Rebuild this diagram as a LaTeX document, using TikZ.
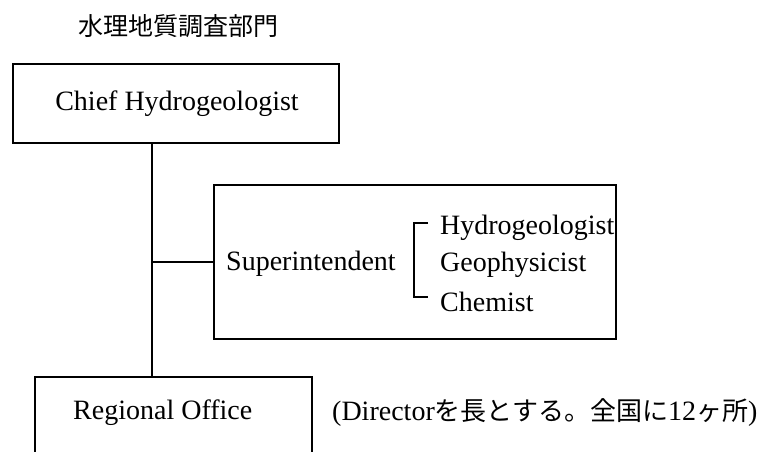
\documentclass[tikz,border=0pt]{standalone}
\usepackage{fontspec}
\setmainfont{Liberation Serif}
\newfontfamily\jp{Noto Sans CJK JP}
\begin{document}
\begin{tikzpicture}[x=1pt,y=-1pt,
  box/.style={draw=black,line width=1.5pt,inner sep=0pt},
  lat/.style={inner sep=0pt,font=\fontsize{28}{30}\selectfont},
  jpt/.style={inner sep=0pt,font=\jp\fontsize{25}{27}\selectfont},
  link/.style={line width=1.6pt}]
\useasboundingbox (0,0) rectangle (767,451);
\clip (0,0) rectangle (767,451);
\fill[white] (0,0) rectangle (767,451);
% title
\node[jpt] (title) at (178.5,26) {水理地質調査部門};
% boxes
\node[box,minimum width=326pt,minimum height=79pt] (chief) at (176,103.5) {};
\node[lat] (chieft) at (177,103.5) {Chief Hydrogeologist};
\node[box,minimum width=402pt,minimum height=154pt] (super) at (415,262) {};
\node[box,minimum width=277pt,minimum height=120pt] (reg) at (173.5,437) {};
\node[lat,anchor=west] (regt) at (73,413) {Regional Office};
% connectors
\coordinate (j) at (152,262);
\draw[link] (chief.south -| j) -- (reg.north -| j);
\draw[link] (j) -- (super.west);
% superintendent contents
\node[lat,anchor=west] (sup) at (226,264) {Superintendent};
\coordinate (bt) at (414,223);
\coordinate (bb) at (414,297);
\draw[line width=1.5pt] ([xshift=14pt]bt) -- (bt) -- (bb) -- ([xshift=14pt]bb);
\node[lat,anchor=west] (h1) at (440,228) {Hydrogeologist};
\node[lat,anchor=west] (h2) at (440,265) {Geophysicist};
\node[lat,anchor=west] (h3) at (440,302) {Chemist};
% note
\node[lat,anchor=west] (note) at (332,413) {(Director{\jp\fontsize{26}{28}\selectfont を長とする。全国に}12{\jp\fontsize{26}{28}\selectfont ヶ所})};
\end{tikzpicture}
\end{document}
